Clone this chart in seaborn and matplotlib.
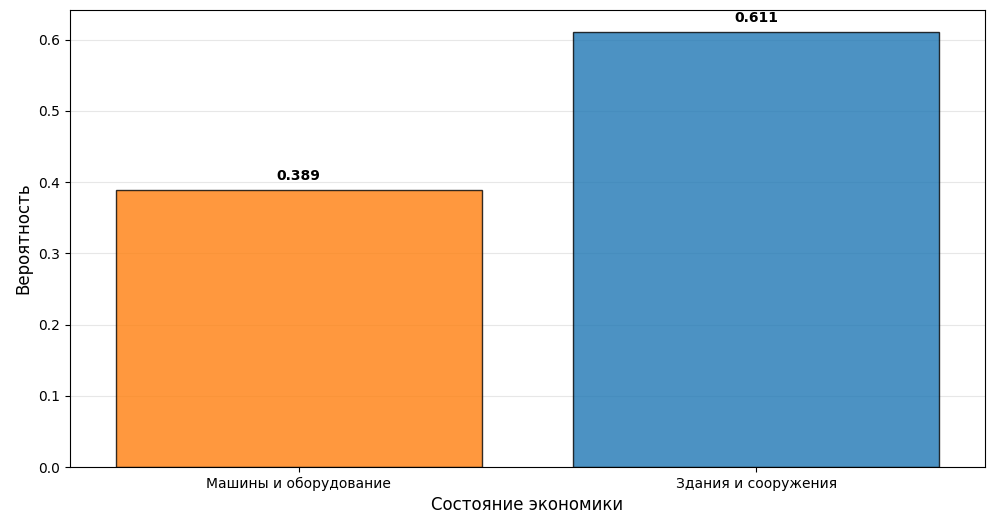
import matplotlib
matplotlib.use("Agg")
import matplotlib.pyplot as plt
import seaborn as sns
import pandas as pd

# Data
categories = ['Машины и оборудование', 'Здания и сооружения']
probabilities = [0.389, 0.611]
colors = ['#ff7f0e', '#1f77b4']

df = pd.DataFrame({'Категория': categories, 'Вероятность': probabilities})

fig, ax = plt.subplots(figsize=(10, 5.29), dpi=100)
sns.barplot(data=df, x='Категория', y='Вероятность', hue='Категория',
            palette=colors, alpha=0.8, edgecolor='black', linewidth=1,
            width=0.8, saturation=1, legend=False, ax=ax)

for i, v in enumerate(probabilities):
    ax.text(i, v + 0.01, f'{v:.3f}', ha='center', va='bottom', fontweight='bold')

ax.set_ylim(0, max(probabilities) * 1.05)
ax.set_xlabel('Состояние экономики', fontsize=12)
ax.set_ylabel('Вероятность', fontsize=12)
ax.grid(axis='y', alpha=0.3)
ax.set_axisbelow(True)

plt.subplots_adjust(left=0.07, right=0.985, top=0.981, bottom=0.117)
plt.savefig('out.png', dpi=100)
